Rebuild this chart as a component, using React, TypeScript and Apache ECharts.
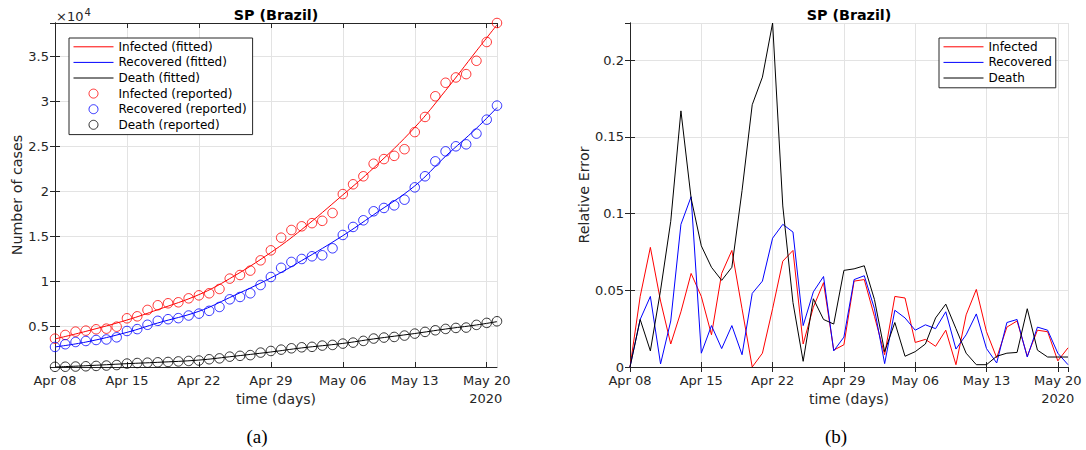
import React, { useEffect, useRef } from "react";
import * as echarts from "echarts";

// ---------- data ----------
const tickLabels = ["Apr 08", "Apr 15", "Apr 22", "Apr 29", "May 06", "May 13", "May 20"];
const dayCount = 44; // Apr 08 .. May 21
const days = Array.from({ length: dayCount }, (_, i) => i);

const infectedReported = [3630, 4040, 4410, 4520, 4670, 4740, 4960, 5890, 6110, 6820, 7340, 7560, 7670, 8110, 8440, 8670, 9150, 10300, 10700, 11190, 12330, 13440, 14850, 15700, 16110, 16460, 16720, 17590, 19690, 20780, 21670, 23060, 23580, 23940, 24680, 26580, 28260, 30560, 32060, 32650, 33020, 34500, 36590, 38700];
const recoveredReported = [2710, 3010, 3260, 3370, 3480, 3540, 3780, 4480, 4690, 5170, 5610, 5790, 5910, 6200, 6410, 6720, 7150, 8000, 8260, 8670, 9590, 10480, 11500, 12150, 12480, 12780, 12890, 13670, 15150, 16040, 16780, 17780, 18150, 18440, 19070, 20440, 21670, 23330, 24440, 25000, 25220, 26410, 27960, 29520];
const deathReported = [500, 510, 530, 560, 600, 640, 700, 860, 920, 960, 1000, 1040, 1100, 1150, 1200, 1340, 1440, 1630, 1720, 1800, 2080, 2260, 2410, 2560, 2670, 2720, 2860, 2930, 3080, 3190, 3380, 3640, 3750, 3820, 3970, 4190, 4380, 4560, 4710, 4820, 4860, 5160, 5380, 5560];

const fitDays = [0, 3, 7, 10, 14, 17, 21, 24, 28, 31, 35, 38, 41, 43];
const infectedFitted = [3600, 4440, 5700, 6850, 8520, 10300, 13200, 15750, 19600, 22600, 27100, 31200, 35600, 38500];
const recoveredFitted = [2710, 3250, 4330, 5370, 6670, 8200, 10380, 12300, 15070, 17400, 20600, 23900, 27000, 29300];
const deathFitted = [480, 620, 850, 1000, 1250, 1620, 2150, 2600, 3100, 3600, 4200, 4700, 5150, 5520];

const infectedError = [0, 0.046, 0.078, 0.043, 0.015, 0.036, 0.061, 0.046, 0.021, 0.061, 0.076, 0.038, 0.0, 0.009, 0.038, 0.069, 0.076, 0.015, 0.039, 0.055, 0.011, 0.0145, 0.056, 0.057, 0.033, 0.008, 0.046, 0.045, 0.016, 0.018, 0.0135, 0.024, 0.0015, 0.034, 0.0506, 0.023, 0.006, 0.026, 0.03, 0.007, 0.024, 0.023, 0.004, 0.0125];
const recoveredError = [0, 0.031, 0.046, 0.002, 0.03, 0.093, 0.111, 0.009, 0.027, 0.012, 0.027, 0.008, 0.048, 0.056, 0.084, 0.093, 0.088, 0.027, 0.049, 0.059, 0.0105, 0.0195, 0.057, 0.0595, 0.038, 0.0022, 0.037, 0.032, 0.024, 0.0275, 0.025, 0.036, 0.0117, 0.021, 0.0346, 0.012, 0.0026, 0.029, 0.031, 0.0065, 0.026, 0.024, 0.009, 0.0015];
const deathError = [0, 0.031, 0.0105, 0.05, 0.095, 0.167, 0.11, 0.079, 0.065, 0.0565, 0.065, 0.115, 0.171, 0.189, 0.2243, 0.105, 0.042, 0.0037, 0.0445, 0.031, 0.028, 0.063, 0.064, 0.066, 0.044, 0.01, 0.029, 0.007, 0.01, 0.015, 0.032, 0.041, 0.025, 0.009, 0.0015, 0.0015, 0.007, 0.009, 0.0095, 0.038, 0.011, 0.0065, 0.0065, 0.0065];

// ---------- style ----------
const FONT = "DejaVu Sans";
const AXIS_COLOR = "#262626";
const GRID_COLOR = "#e3e3e3";
const RED = "#ff0000";
const BLUE = "#0000ff";
const BLACK = "#000000";

const pairs = (xs: number[], ys: number[]) => xs.map((x, i) => [x, ys[i]]);

function xAxes(gridIndex: number) {
  const base = {
    gridIndex,
    type: "value" as const,
    min: 0,
    max: dayCount - 1,
    interval: 7,
    axisLine: { show: true, lineStyle: { color: AXIS_COLOR, width: 1 } },
    axisTick: { show: true, inside: true, length: 5, lineStyle: { color: AXIS_COLOR } },
  };
  return [
    {
      ...base,
      position: "bottom",
      axisLabel: {
        show: true,
        margin: 7,
        fontSize: 13,
        lineHeight: 13,
        fontFamily: FONT,
        color: AXIS_COLOR,
        showMaxLabel: false,
        formatter: (v: number) => (v % 7 === 0 ? tickLabels[v / 7] ?? "" : ""),
      },
      splitLine: { show: true, lineStyle: { color: GRID_COLOR, width: 1 } },
      name: "time (days)",
      nameLocation: "middle",
      nameGap: 23,
      nameTextStyle: { fontSize: 14, fontFamily: FONT, color: AXIS_COLOR },
    },
    {
      ...base,
      position: "top",
      axisLabel: { show: false },
      splitLine: { show: false },
    },
  ];
}

function yAxes(gridIndex: number, cfg: any, label: any, name: string, nameGap: number) {
  const base = {
    gridIndex,
    type: "value" as const,
    ...cfg,
    axisLine: { show: true, lineStyle: { color: AXIS_COLOR, width: 1 } },
    axisTick: { show: true, inside: true, length: 5, lineStyle: { color: AXIS_COLOR } },
  };
  return [
    {
      ...base,
      position: "left",
      axisLabel: {
        show: true,
        margin: 6,
        fontSize: 13,
        lineHeight: 12,
        fontFamily: FONT,
        color: AXIS_COLOR,
        ...label,
      },
      splitLine: { show: true, lineStyle: { color: GRID_COLOR, width: 1 } },
      name,
      nameLocation: "middle",
      nameGap,
      nameTextStyle: { fontSize: 14.3, fontFamily: FONT, color: AXIS_COLOR },
    },
    {
      ...base,
      position: "right",
      axisLabel: { show: false },
      splitLine: { show: false },
    },
  ];
}

function fittedLine(name: string, ys: number[], color: string) {
  return {
    name,
    type: "line",
    xAxisIndex: 0,
    yAxisIndex: 0,
    data: pairs(fitDays, ys),
    smooth: 0.4,
    symbol: "none",
    lineStyle: { color, width: 1 },
    itemStyle: { color },
    z: 3,
  };
}

function reportedScatter(name: string, ys: number[], color: string) {
  return {
    name,
    type: "scatter",
    xAxisIndex: 0,
    yAxisIndex: 0,
    data: pairs(days, ys),
    symbol: "circle",
    symbolSize: 9.5,
    itemStyle: { color: "rgba(255,255,255,0)", borderColor: color, borderWidth: 1 },
    z: 2,
  };
}

function errorLine(name: string, ys: number[], color: string) {
  return {
    name,
    type: "line",
    xAxisIndex: 2,
    yAxisIndex: 2,
    data: pairs(days, ys),
    symbol: "none",
    lineStyle: { color, width: 1 },
    itemStyle: { color },
  };
}

const legendBase = {
  orient: "vertical",
  itemWidth: 40,
  itemHeight: 9,
  itemGap: 0,
  borderColor: AXIS_COLOR,
  borderWidth: 1,
  borderRadius: 0,
  backgroundColor: "#ffffff",
  selectedMode: false,
  textStyle: { fontSize: 12, fontFamily: FONT, color: "#000", lineHeight: 15.6 },
};

const lineItem = (name: string) => ({ name, itemStyle: { opacity: 0 }, lineStyle: { width: 1 } });
const circleItem = (name: string, color: string) => ({
  name,
  itemStyle: { color: "rgba(255,255,255,0)", borderColor: color, borderWidth: 1 },
});

export default function App() {
  const ref = useRef<HTMLDivElement>(null);

  useEffect(() => {
    if (!ref.current) return;
    const chart = echarts.init(ref.current, undefined, { renderer: "svg" });
    const titleStyle = { fontSize: 14.3, fontWeight: "bold", fontFamily: FONT, fill: "#000", align: "center", verticalAlign: "middle" };
    const option: any = {
      animation: false,
      backgroundColor: "#ffffff",
      grid: [
        { left: 55, top: 23, width: 442, height: 344 },
        { left: 630, top: 23, width: 438, height: 344 },
      ],
      xAxis: [...xAxes(0), ...xAxes(1)],
      yAxis: [
        ...yAxes(
          0,
          { min: 480, max: 38700, splitNumber: 8 },
          { showMinLabel: false, showMaxLabel: false, formatter: (v: number) => String(+(v / 10000).toFixed(2)) },
          "Number of cases",
          30
        ),
        ...yAxes(
          1,
          { min: 0, max: 0.2243, interval: 0.05 },
          { showMaxLabel: false },
          "Relative Error",
          39
        ),
      ],
      legend: [
        {
          ...legendBase,
          left: 69,
          top: 38,
          padding: [1, 6, 2, 4],
          data: [
            lineItem("Infected (fitted)"),
            lineItem("Recovered (fitted)"),
            lineItem("Death (fitted)"),
            circleItem("Infected (reported)", RED),
            circleItem("Recovered (reported)", BLUE),
            circleItem("Death (reported)", BLACK),
          ],
        },
        {
          ...legendBase,
          left: 939,
          top: 38,
          padding: [1, 4, 2, 4],
          data: [lineItem("Infected"), lineItem("Recovered"), lineItem("Death")],
        },
      ],
      series: [
        fittedLine("Infected (fitted)", infectedFitted, RED),
        fittedLine("Recovered (fitted)", recoveredFitted, BLUE),
        fittedLine("Death (fitted)", deathFitted, BLACK),
        reportedScatter("Infected (reported)", infectedReported, RED),
        reportedScatter("Recovered (reported)", recoveredReported, BLUE),
        reportedScatter("Death (reported)", deathReported, BLACK),
        errorLine("Infected", infectedError, RED),
        errorLine("Recovered", recoveredError, BLUE),
        errorLine("Death", deathError, BLACK),
      ],
      graphic: [
        { type: "text", x: 276, y: 15, style: { text: "SP (Brazil)", ...titleStyle } },
        { type: "text", x: 849, y: 15, style: { text: "SP (Brazil)", ...titleStyle } },
        {
          type: "text",
          x: 56,
          y: 16,
          style: {
            text: "×10{sup|4}",
            fontSize: 13,
            fontFamily: FONT,
            fill: AXIS_COLOR,
            align: "left",
            verticalAlign: "middle",
            rich: {
              sup: { fontSize: 10, fontFamily: FONT, fill: AXIS_COLOR, verticalAlign: "top", padding: [0, 0, 8, 1] },
            },
          },
        },
        {
          type: "text",
          x: 485.7,
          y: 398,
          style: { text: "2020", fontSize: 13, fontFamily: FONT, fill: AXIS_COLOR, align: "center", verticalAlign: "middle" },
        },
        {
          type: "text",
          x: 1057.7,
          y: 398,
          style: { text: "2020", fontSize: 13, fontFamily: FONT, fill: AXIS_COLOR, align: "center", verticalAlign: "middle" },
        },
        {
          type: "text",
          x: 257,
          y: 436,
          style: { text: "(a)", fontSize: 19, fontFamily: "Liberation Serif", fill: "#000", align: "center", verticalAlign: "middle" },
        },
        {
          type: "text",
          x: 836,
          y: 436,
          style: { text: "(b)", fontSize: 19, fontFamily: "Liberation Serif", fill: "#000", align: "center", verticalAlign: "middle" },
        },
      ],
    };
    chart.setOption(option);
    return () => chart.dispose();
  }, []);

  return (
    <div
      ref={ref}
      style={{ position: "absolute", left: 0, top: 0, width: 1086, height: 450, background: "#fff" }}
    />
  );
}
